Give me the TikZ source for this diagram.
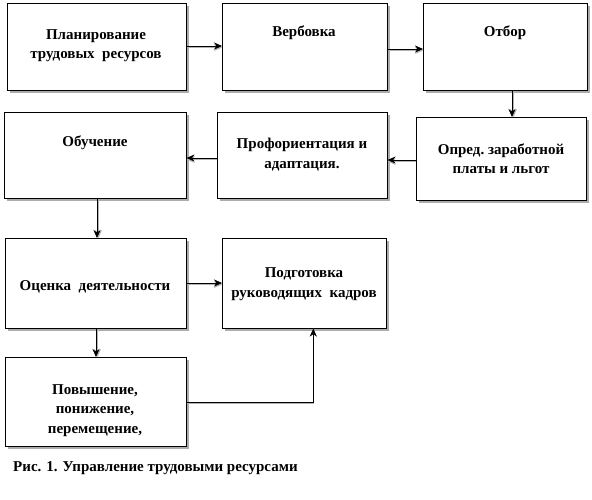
\documentclass[tikz,border=0pt]{standalone}
\usepackage{fontspec}
\setmainfont{Liberation Serif}
\usetikzlibrary{arrows.meta}
\begin{document}
\begin{tikzpicture}[x=1pt,y=-1pt,
  box/.style={draw=black,line width=0.6pt,fill=white,minimum width=#1,inner sep=0pt,anchor=north west},
  lbl/.style={font=\bfseries\fontsize{15}{19.5}\selectfont,align=center,anchor=base,inner sep=0pt},
  arr/.style={line width=0.6pt,-{Stealth[length=8pt,width=7pt]}},
  arrsh/.style={line width=0.9pt,gray!60,-{Stealth[length=8pt,width=7pt]},shift={(1.5pt,-1.5pt)}}
]
\useasboundingbox (0,0) rectangle (592,500);
\fill[white] (0,0) rectangle (592,500);
% shadows
\foreach \a/\b/\c/\d in {7/3/186/90, 222/3/387/90, 423/3/587/90, 416/117/586/200, 217/112/387/198, 4/112/186/198, 5/238/186/328, 222/238/386/328, 5/357/186/446}
  \fill[gray!65] (\a+3,\b+3) rectangle (\c+3,\d+3);
% boxes
\node[box=179pt,minimum height=87pt] (b1) at (7,3) {};
\node[box=165pt,minimum height=87pt] (b2) at (222,3) {};
\node[box=164pt,minimum height=87pt] (b3) at (423,3) {};
\node[box=170pt,minimum height=83pt] (b4) at (416,117) {};
\node[box=170pt,minimum height=86pt] (b5) at (217,112) {};
\node[box=182pt,minimum height=86pt] (b6) at (4,112) {};
\node[box=181pt,minimum height=90pt] (b7) at (5,238) {};
\node[box=164pt,minimum height=90pt] (b8) at (222,238) {};
\node[box=181pt,minimum height=89pt] (b9) at (5,357) {};
% labels (anchor = baseline of last line)
\node[lbl] (t1) at (96,59) {Планирование\\трудовых\ \ ресурсов};
\node[lbl] (t2) at (304,37) {Вербовка};
\node[lbl] (t3) at (505,37) {Отбор};
\node[lbl] (t4) at (501,174) {Опред.\ заработной\\платы и льгот};
\node[lbl] (t5) at (302,168) {Профориентация и\\адаптация.};
\node[lbl] (t6) at (95,147) {Обучение};
\node[lbl] (t7) at (95,290) {Оценка\ \ деятельности};
\node[lbl] (t8) at (304,297) {Подготовка\\руководящих\ \ кадров};
\node[lbl] (t9) at (95,433) {Повышение,\\понижение,\\перемещение,};
\node[font=\bfseries\fontsize{15}{18}\selectfont,anchor=base west,inner sep=0pt] (cap) at (13,471) {Рис. 1. Управление трудовыми ресурсами};
% connectors
\coordinate (e8) at ([xshift=9pt]b8.south);
\foreach \s in {arrsh,arr}{
  \draw[\s] (b1.east |- 0,46) -- (b2.west |- 0,46);
  \draw[\s] (b2.east |- 0,49) -- (b3.west |- 0,49);
  \draw[\s] (b3.south -| 512,0) -- (b4.north -| 512,0);
  \draw[\s] (b4.west |- 0,160) -- (b5.east |- 0,160);
  \draw[\s] (b5.west |- 0,158) -- (b6.east |- 0,158);
  \draw[\s] (b6.south -| 97,0) -- (b7.north -| 97,0);
  \draw[\s] (b7.east |- 0,283) -- (b8.west |- 0,283);
  \draw[\s] (b7.south -| 96,0) -- (b9.north -| 96,0);
  \draw[\s] (b9.east |- 0,402) -| (e8);
}
\end{tikzpicture}
\end{document}
